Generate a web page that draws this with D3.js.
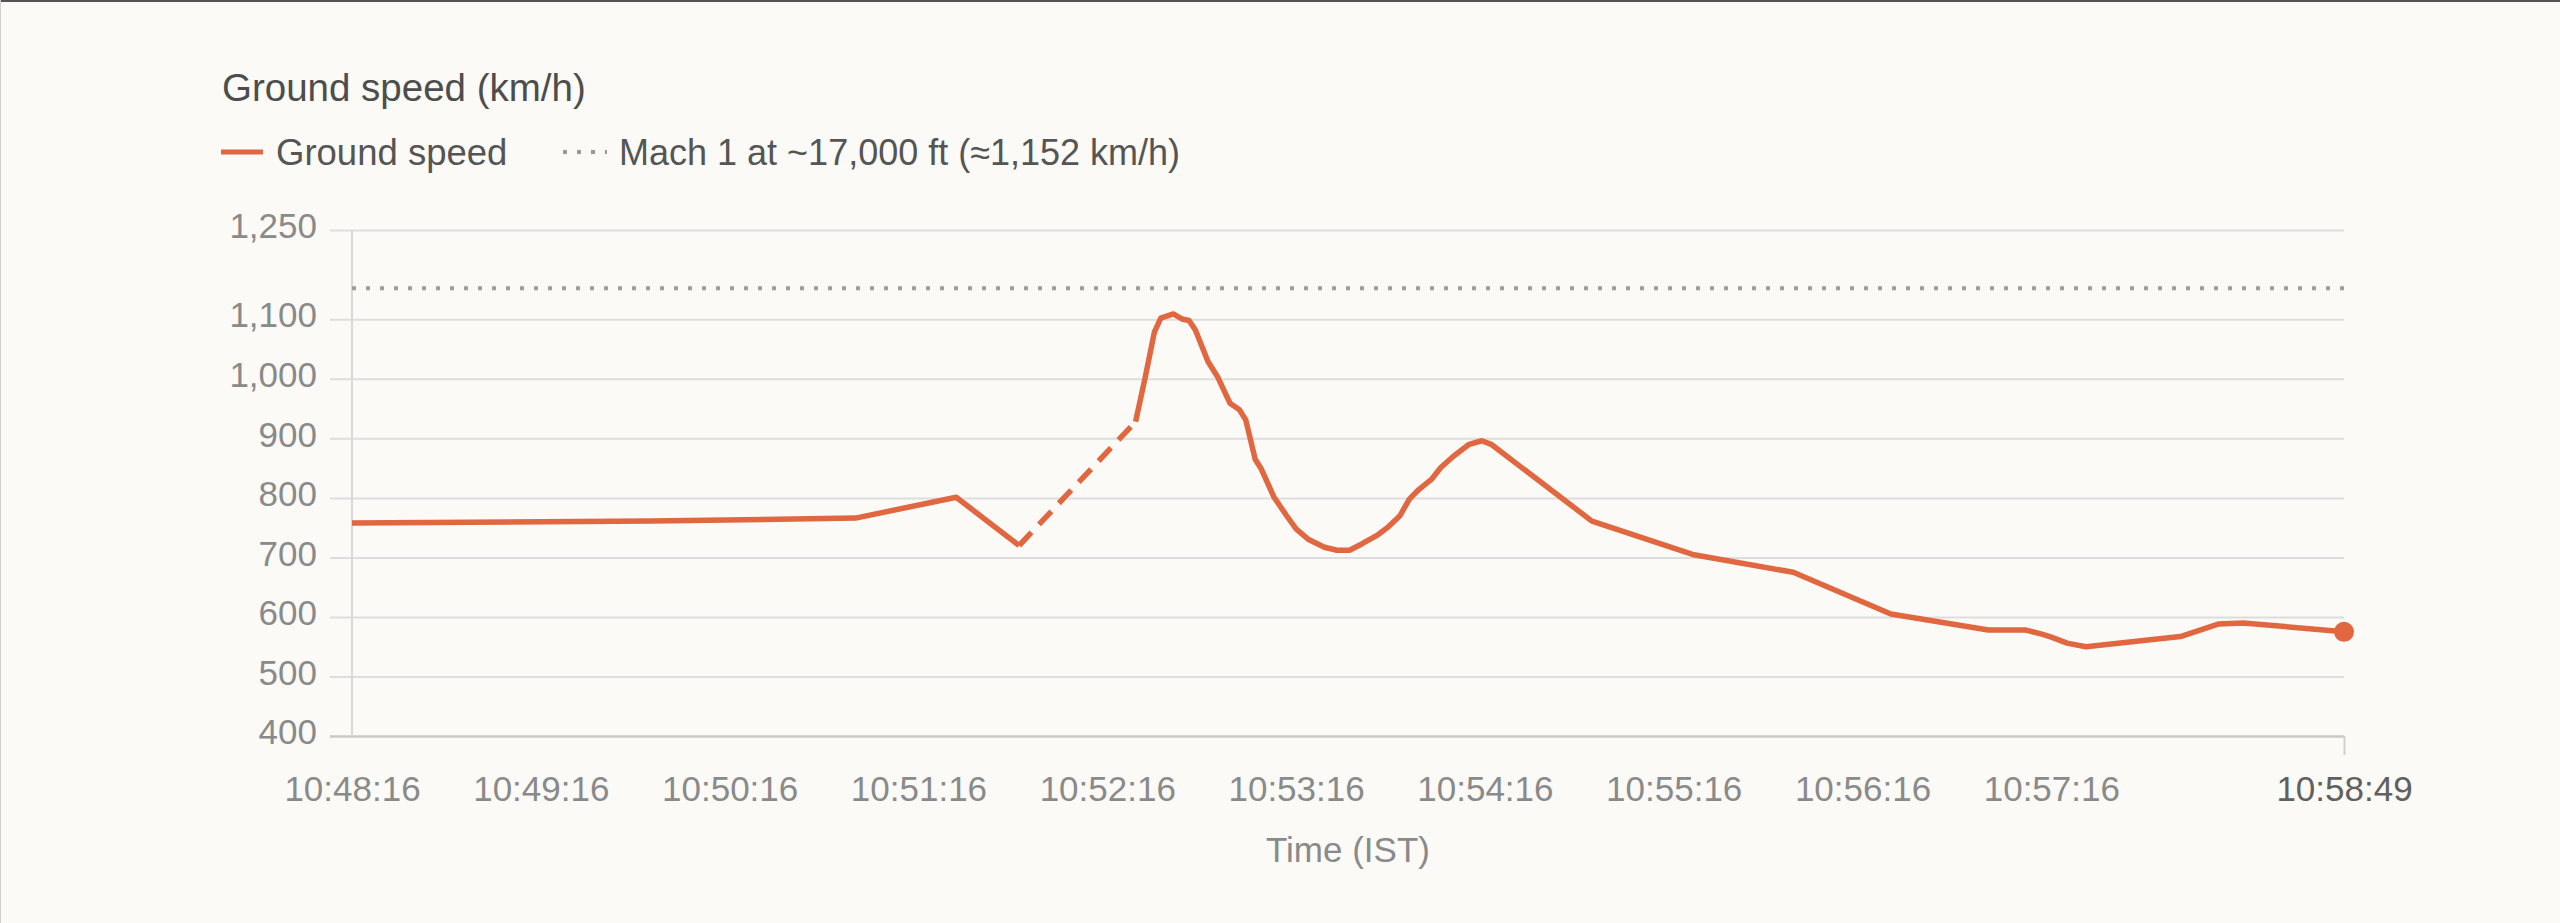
<!DOCTYPE html>
<html>
<head>
<meta charset="utf-8">
<script src="https://cdn.jsdelivr.net/npm/d3@7"></script>
<style>
  html, body { margin: 0; padding: 0; background: #fbfaf6; }
  svg { display: block; font-family: "Liberation Sans", Arial, sans-serif; }
</style>
</head>
<body>
<div id="chart"></div>
<script>
// ground speed samples (IST)
const times = ["10:48:16","10:49:51","10:50:56","10:51:28","10:51:48",
  "10:52:25","10:52:28","10:52:31","10:52:33","10:52:37","10:52:40","10:52:42","10:52:44",
  "10:52:48","10:52:51","10:52:55","10:52:58","10:53:00","10:53:03","10:53:05","10:53:09",
  "10:53:13","10:53:16","10:53:20","10:53:25","10:53:29","10:53:33","10:53:37","10:53:42",
  "10:53:45","10:53:49","10:53:52","10:53:55","10:53:59","10:54:02","10:54:06","10:54:11",
  "10:54:15","10:54:18","10:54:50","10:55:22","10:55:54","10:56:25","10:56:56","10:57:08",
  "10:57:13","10:57:16","10:57:21","10:57:27","10:57:57","10:58:09","10:58:17","10:58:49"];
const speeds = [758,761,766,801,720,
  928,1001,1079,1102,1109,1100,1098,1082,
  1029,1004,959,948,931,865,848,801,
  770,748,730,717,712,712,723,738,
  750,770,798,814,831,851,870,890,
  896,890,761,705,675,605,578,578,
  571,566,556,550,567,588,590,575];
// no data between these two samples -> drawn dashed
const gapAfter = 4;

const machSpeed = 1152;
const yTicks = [400,500,600,700,800,900,1000,1100,1250];
const xTickLabels = ["10:48:16","10:49:16","10:50:16","10:51:16","10:52:16",
  "10:53:16","10:54:16","10:55:16","10:56:16","10:57:16","10:58:49"];

const W = 2560, H = 923;
const margin = {top: 230, right: 216, bottom: 187, left: 352};
const width = W - margin.left - margin.right;
const height = H - margin.top - margin.bottom;
const orange = "#e0673f";

const parse = d3.timeParse("%H:%M:%S");
const fmt = d3.timeFormat("%H:%M:%S");
const data = times.map((t, i) => ({t: parse(t), v: speeds[i]}));

const svg = d3.select("#chart").append("svg")
  .attr("width", W).attr("height", H);

// frame edges of the screenshot
svg.append("line").attr("x1", 0).attr("x2", W).attr("y1", 1).attr("y2", 1)
  .attr("stroke", "#555").attr("stroke-width", 2);
svg.append("line").attr("x1", 0.5).attr("x2", 0.5).attr("y1", 0).attr("y2", H)
  .attr("stroke", "#cfcfcf").attr("stroke-width", 1);

// title + legend
svg.append("text").attr("x", 222).attr("y", 101)
  .attr("font-size", 38.5).attr("fill", "#4d4d4d").text("Ground speed (km/h)");

const leg = svg.append("g").attr("transform", "translate(221,152)");
leg.append("line").attr("x1", 0).attr("x2", 42)
  .attr("stroke", orange).attr("stroke-width", 5);
leg.append("text").attr("x", 55).attr("y", 13)
  .attr("font-size", 36.5).attr("fill", "#555").text("Ground speed");
leg.append("line").attr("x1", 342).attr("x2", 386)
  .attr("stroke", "#999").attr("stroke-width", 4).attr("stroke-dasharray", "4,10");
leg.append("text").attr("x", 398).attr("y", 13)
  .attr("font-size", 36).attr("fill", "#555").text("Mach 1 at ~17,000 ft (≈1,152 km/h)");

const g = svg.append("g")
  .attr("transform", `translate(${margin.left},${margin.top})`);

const x = d3.scaleTime()
  .domain([parse(xTickLabels[0]), parse(xTickLabels[xTickLabels.length - 1])])
  .range([0, width]);
const y = d3.scaleLinear()
  .domain([yTicks[0], yTicks[yTicks.length - 1]])
  .range([height, 0]);

// y axis with gridlines
const yAxis = g.append("g")
  .call(d3.axisLeft(y).tickValues(yTicks).tickSize(-width).tickPadding(35)
    .tickFormat(d3.format(",")));
yAxis.select(".domain").remove();
yAxis.selectAll(".tick line").attr("x1", -22)
  .attr("stroke", d => d === yTicks[0] ? "#c8c8c8" : "#dddddd")
  .attr("stroke-width", d => d === yTicks[0] ? 2.5 : 2);
yAxis.selectAll(".tick text").attr("font-size", 35).attr("fill", "#8a8a8a")
  .attr("font-family", "Liberation Sans, Arial, sans-serif").attr("dy", "0.22em");

g.append("line").attr("x1", 0).attr("x2", 0).attr("y1", 0).attr("y2", height)
  .attr("stroke", "#d8d8d8").attr("stroke-width", 2);

// x axis
const xAxis = g.append("g").attr("transform", `translate(0,${height})`)
  .call(d3.axisBottom(x).tickValues(xTickLabels.map(parse)).tickSize(0).tickPadding(40)
    .tickFormat(fmt));
xAxis.select(".domain").remove();
xAxis.selectAll(".tick text").attr("font-size", 35)
  .attr("font-family", "Liberation Sans, Arial, sans-serif")
  .attr("fill", (d, i) => i === xTickLabels.length - 1 ? "#606060" : "#8a8a8a");
xAxis.selectAll(".tick").filter((d, i) => i === xTickLabels.length - 1)
  .select("line").attr("y2", 19).attr("stroke", "#d0d0d0").attr("stroke-width", 2);

g.append("text").attr("x", width / 2).attr("y", height + 126)
  .attr("text-anchor", "middle").attr("font-size", 35).attr("fill", "#8a8a8a")
  .text("Time (IST)");

// Mach 1 reference
g.append("line").attr("x1", 0).attr("x2", width)
  .attr("y1", y(machSpeed)).attr("y2", y(machSpeed))
  .attr("stroke", "#9c9c9c").attr("stroke-width", 4).attr("stroke-dasharray", "4,10");

// speed line
const line = d3.line().x(d => x(d.t)).y(d => y(d.v));
g.append("path").datum(data.slice(0, gapAfter + 1))
  .attr("fill", "none").attr("stroke", orange).attr("stroke-width", 5.5)
  .attr("stroke-linejoin", "round").attr("d", line);
g.append("path").datum(data.slice(gapAfter, gapAfter + 2))
  .attr("fill", "none").attr("stroke", orange).attr("stroke-width", 5.5)
  .attr("stroke-dasharray", "18,11").attr("d", line);
g.append("path").datum(data.slice(gapAfter + 1))
  .attr("fill", "none").attr("stroke", orange).attr("stroke-width", 5.5)
  .attr("stroke-linejoin", "round").attr("d", line);

const last = data[data.length - 1];
g.append("circle").attr("cx", x(last.t)).attr("cy", y(last.v)).attr("r", 10)
  .attr("fill", orange);
</script>
</body>
</html>
